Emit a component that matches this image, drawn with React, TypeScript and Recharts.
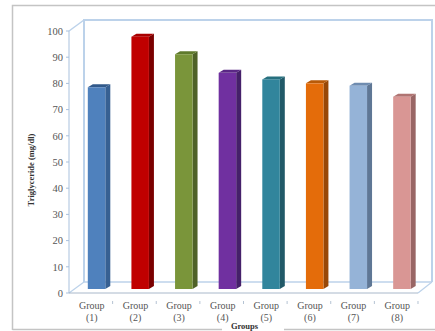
import { BarChart, Bar, XAxis, YAxis, Customized } from 'recharts'

const groups = ['(1)', '(2)', '(3)', '(4)', '(5)', '(6)', '(7)', '(8)']
const triglyceride = [77, 96.3, 89.6, 82.5, 80, 78.5, 77.6, 73.4]
const yTicks = [0, 10, 20, 30, 40, 50, 60, 70, 80, 90, 100]
const frontColors = ['#4f81bd', '#c00000', '#7a953a', '#7030a0', '#31859c', '#e46c0a', '#95b3d7', '#d99694']
const sideColors = ['#376092', '#7a0000', '#4f6228', '#45206a', '#215968', '#984807', '#5f7795', '#996665']
const topColors = ['#31598a', '#a80000', '#5f7a2c', '#5a2785', '#27707f', '#b85a08', '#6f8cb0', '#b07472']

const chartData = groups.map((group, i) => ({ group, value: triglyceride[i] }))

const FONT = '"Liberation Serif", serif'
const WALL = '#bcd2ea'
const FRAME = '#c4c4c4'
const DEPTH_X = 5
const DEPTH_Y = 3

// bars stand slightly inside the floor, so they sit off the front axis plane
const SHIFT_X = 5.8
const SHIFT_Y = -4

function Bar3D(props: any) {
  const { x, y, width, height, index } = props
  const l = x + SHIFT_X
  const r = l + width
  const t = y + SHIFT_Y
  const b = t + height
  return (
    <g>
      <polygon
        points={`${r},${t} ${r + DEPTH_X},${t - DEPTH_Y} ${r + DEPTH_X},${b - DEPTH_Y} ${r},${b}`}
        fill={sideColors[index]}
      />
      <polygon
        points={`${l},${t} ${l + DEPTH_X},${t - DEPTH_Y} ${r + DEPTH_X},${t - DEPTH_Y} ${r},${t}`}
        fill={topColors[index]}
      />
      <rect x={l} y={t} width={width} height={height} fill={frontColors[index]} />
    </g>
  )
}

function GroupTick(props: any) {
  const { x, y, payload } = props
  return (
    <g>
      <line x1={x + 21.8} x2={x + 21.8} y1={y} y2={y + 3} stroke="#b5c3d3" />
      <text x={x + 1} y={y + 8} textAnchor="middle" fontSize={10} fontFamily={FONT} fill="#555">
        <tspan x={x + 1}>Group</tspan>
        <tspan x={x + 1} dy={12}>{payload.value}</tspan>
      </text>
    </g>
  )
}

// back walls and floor outline of the 3D box, plus the outer frame with its gap under the axis title
function Walls() {
  return (
    <g fill="none">
      <path d="M12.5 330V5.5H435M12.5 329.5H222M284 329.5H435" stroke={FRAME} strokeWidth={1.5} />
      <path d="M84 282V20H432V282" stroke={WALL} strokeWidth={2} />
      <path d="M84 282H432" stroke={WALL} strokeWidth={1.5} />
      <path d="M69 31L84 20" stroke={WALL} strokeWidth={1.5} />
      <path d="M69 293L84 282M418 293L432 282" stroke={WALL} strokeWidth={1.2} />
    </g>
  )
}

export default function App() {
  return (
    <div style={{ position: 'absolute', left: 0, top: 0, width: 435, height: 331, background: '#fff', overflow: 'hidden' }}>
      <BarChart
        width={435}
        height={331}
        data={chartData}
        margin={{ top: 31, right: 17, bottom: 0, left: 0 }}
        style={{ position: 'absolute', left: 0, top: 0 }}
      >
        <Customized component={Walls} />
        <YAxis
          width={69}
          domain={[0, 100]}
          ticks={yTicks}
          interval={0}
          tick={{ fontSize: 10.5, fontFamily: FONT, fill: '#555' }}
          tickSize={3}
          tickMargin={3}
          axisLine={{ stroke: '#a9c1dd', strokeWidth: 1 }}
          tickLine={{ stroke: '#a9c1dd' }}
          label={{
            value: 'Triglyceride (mg/dl)',
            angle: -90,
            position: 'insideLeft',
            dx: 26,
            dy: 8,
            style: { fontSize: 8.5, fontWeight: 700, fontFamily: FONT, fill: '#333', textAnchor: 'middle' },
          }}
        />
        <XAxis
          dataKey="group"
          height={38}
          interval={0}
          tick={<GroupTick />}
          tickLine={false}
          axisLine={{ stroke: '#a9b8ca', strokeWidth: 1 }}
          label={{
            value: 'Groups',
            position: 'insideBottom',
            dx: 1,
            dy: 3,
            style: { fontSize: 8.5, fontWeight: 700, fontFamily: FONT, fill: '#333' },
          }}
        />
        <Bar dataKey="value" barSize={17.5} shape={<Bar3D />} isAnimationActive={false} />
      </BarChart>
    </div>
  )
}
